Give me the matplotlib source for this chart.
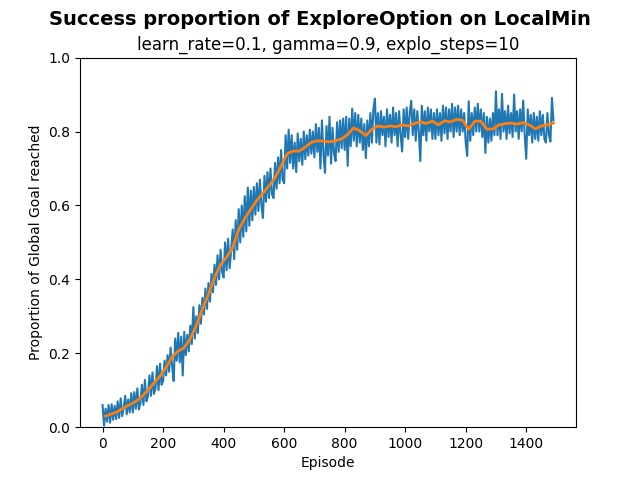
import numpy as np
import matplotlib
matplotlib.use("Agg")
import matplotlib.pyplot as plt

# Raw success proportion, sampled every 5 episodes (0..1490)
raw_episodes = list(range(0, 1491, 5))
raw_values = [
    0.060, 0.004, 0.050, 0.015, 0.060, 0.012, 0.062, 0.020, 0.058, 0.022,
    0.070, 0.025, 0.078, 0.030, 0.055, 0.085, 0.035, 0.075, 0.040, 0.092,
    0.040, 0.095, 0.050, 0.105, 0.048, 0.065, 0.115, 0.060, 0.128, 0.070,
    0.085, 0.140, 0.085, 0.148, 0.090, 0.105, 0.165, 0.100, 0.172, 0.115,
    0.125, 0.180, 0.140, 0.195, 0.150, 0.215, 0.165, 0.125, 0.240, 0.180,
    0.255, 0.175, 0.245, 0.140, 0.258, 0.195, 0.250, 0.205, 0.275, 0.225,
    0.325, 0.240, 0.300, 0.255, 0.330, 0.280, 0.350, 0.305, 0.375, 0.320,
    0.390, 0.340, 0.415, 0.365, 0.440, 0.385, 0.465, 0.400, 0.480, 0.420,
    0.405, 0.500, 0.425, 0.510, 0.430, 0.480, 0.535, 0.455, 0.560, 0.480,
    0.590, 0.500, 0.600, 0.515, 0.625, 0.530, 0.648, 0.545, 0.640, 0.560,
    0.650, 0.575, 0.660, 0.585, 0.670, 0.600, 0.566, 0.680, 0.610, 0.690,
    0.620, 0.700, 0.630, 0.620, 0.715, 0.645, 0.730, 0.660, 0.750, 0.670,
    0.660, 0.790, 0.700, 0.805, 0.715, 0.790, 0.700, 0.770, 0.690, 0.795,
    0.720, 0.780, 0.710, 0.800, 0.725, 0.790, 0.735, 0.805, 0.740, 0.800,
    0.730, 0.820, 0.745, 0.810, 0.700, 0.830, 0.740, 0.688, 0.815, 0.735,
    0.840, 0.713, 0.810, 0.740, 0.720, 0.825, 0.745, 0.830, 0.755, 0.835,
    0.750, 0.840, 0.707, 0.835, 0.760, 0.862, 0.775, 0.850, 0.760, 0.845,
    0.770, 0.835, 0.750, 0.820, 0.728, 0.830, 0.760, 0.850, 0.770, 0.860,
    0.889, 0.770, 0.850, 0.765, 0.855, 0.790, 0.840, 0.760, 0.860, 0.785,
    0.845, 0.770, 0.865, 0.790, 0.850, 0.760, 0.855, 0.790, 0.746, 0.860,
    0.785, 0.865, 0.780, 0.850, 0.883, 0.790, 0.860, 0.775, 0.855, 0.800,
    0.720, 0.870, 0.790, 0.855, 0.775, 0.865, 0.800, 0.860, 0.780, 0.850,
    0.780, 0.860, 0.790, 0.850, 0.775, 0.870, 0.795, 0.865, 0.780, 0.860,
    0.800, 0.875, 0.785, 0.865, 0.800, 0.870, 0.790, 0.860, 0.800, 0.850,
    0.770, 0.734, 0.882, 0.775, 0.850, 0.790, 0.865, 0.800, 0.875, 0.800,
    0.860, 0.785, 0.850, 0.742, 0.840, 0.770, 0.835, 0.775, 0.850, 0.790,
    0.909, 0.790, 0.860, 0.780, 0.902, 0.800, 0.855, 0.780, 0.870, 0.795,
    0.850, 0.785, 0.900, 0.800, 0.855, 0.780, 0.860, 0.800, 0.884, 0.790,
    0.726, 0.860, 0.790, 0.845, 0.770, 0.850, 0.780, 0.840, 0.775, 0.855,
    0.790, 0.845, 0.780, 0.770, 0.850, 0.790, 0.773, 0.891, 0.830,
]

# Smoothed (moving average) curve
smooth_episodes = list(range(10, 1491, 20))
smooth_values = [
    0.030, 0.036, 0.042, 0.053, 0.061, 0.070, 0.083, 0.100, 0.120, 0.138,
    0.162, 0.190, 0.206, 0.215, 0.240, 0.275, 0.320, 0.360, 0.405, 0.440,
    0.460, 0.485, 0.535, 0.565, 0.590, 0.614, 0.633, 0.653, 0.675, 0.706,
    0.740, 0.747, 0.747, 0.758, 0.771, 0.775, 0.774, 0.772, 0.775, 0.780,
    0.792, 0.810, 0.802, 0.789, 0.806, 0.815, 0.812, 0.815, 0.813, 0.818,
    0.815, 0.822, 0.826, 0.822, 0.828, 0.818, 0.829, 0.826, 0.833, 0.830,
    0.806, 0.828, 0.828, 0.806, 0.807, 0.818, 0.821, 0.823, 0.820, 0.824,
    0.818, 0.807, 0.815, 0.818, 0.823,
]

fig, ax = plt.subplots(figsize=(6.4, 4.8), dpi=100)
ax.plot(raw_episodes, raw_values, color="C0", lw=1.5)
ax.plot(smooth_episodes, smooth_values, color="C1", lw=2)
ax.set_ylim(0, 1.0)
ax.set_xlabel("Episode")
ax.set_ylabel("Proportion of Global Goal reached")
ax.set_title("learn_rate=0.1, gamma=0.9, explo_steps=10")
fig.suptitle("Success proportion of ExploreOption on LocalMin", fontsize=14, fontweight="bold")
fig.savefig("out.png")
